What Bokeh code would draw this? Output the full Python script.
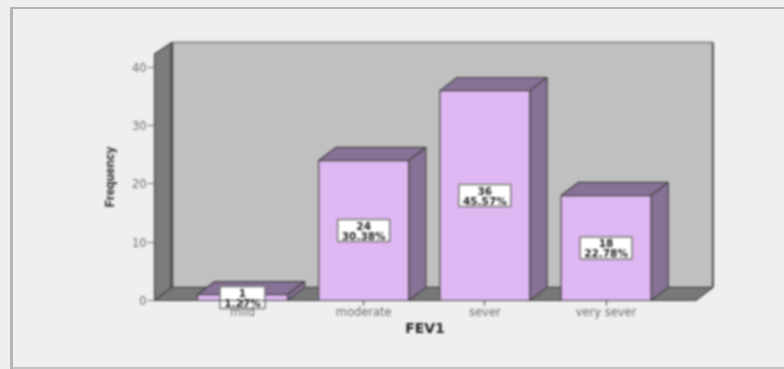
from bokeh.core.properties import value
from bokeh.embed import file_html
from bokeh.resources import INLINE
from bokeh.plotting import figure
from bokeh.models import ColumnDataSource, Range1d, FixedTicker

categories = ["mild", "moderate", "sever", "very sever"]
frequency = [1, 24, 36, 18]
percent = [1.27, 30.38, 45.57, 22.78]
y_ticks = [0, 10, 20, 30, 40]

xs = list(range(len(categories)))
half = 0.3714
dx, dy = 0.142, 2.25
x_left, x_right = -0.726, 3.74
wall_top = 42.3
back_top = wall_top + dy - 0.3

p = figure(width=784, height=369, output_backend="svg", toolbar_location=None,
           x_range=Range1d(-1.213, 3.895), y_range=Range1d(-7.72, 44.6),
           min_border_left=95, min_border_right=70, min_border_top=40, min_border_bottom=24,
           border_fill_color=None, background_fill_color=None, outline_line_color=None)
p.styles = {"filter": "blur(0.8px)"}
p.grid.visible = False

edge = "#444444"
# back wall, left wall, floor
p.patch([x_left + dx, x_right + dx, x_right + dx, x_left + dx], [dy, dy, back_top, back_top],
        fill_color="#c0c0c0", line_color=None)
p.line([x_left + dx, x_right + dx], [back_top, back_top], line_color="#8c8c8c", line_width=2)
p.line([x_right + dx, x_right + dx], [dy, back_top], line_color="#505050", line_width=2)
p.patch([x_left, x_left + dx, x_left + dx, x_left], [0, dy, back_top, wall_top],
        fill_color="#7c7c7c", line_color=edge, line_width=1.2)
p.line([x_left + dx, x_left + dx], [dy, back_top], line_color="#505050", line_width=3)
p.patch([x_left, x_right, x_right + dx, x_left + dx], [0, 0, dy, dy],
        fill_color="#787878", line_color=edge, line_width=1.2)

# bars
for x, v in zip(xs, frequency):
    l, r = x - half, x + half
    p.patch([l, r, r + dx, l + dx], [v, v, v + dy, v + dy], fill_color="#877196", line_color=edge, line_width=1.2)
    p.patch([r, r + dx, r + dx, r], [0, dy, v + dy, v], fill_color="#877196", line_color=edge, line_width=1.2)
    p.quad(left=[l], right=[r], bottom=[0], top=[v], fill_color="#dfb7f2", line_color=edge, line_width=1.2)

# axes
tick_font = "DejaVu Sans"
p.xaxis.fixed_location = 0
p.xaxis.ticker = FixedTicker(ticks=xs)
p.xaxis.major_label_overrides = dict(zip(xs, categories))
p.xaxis.bounds = (x_left, x_right)
p.xaxis.axis_line_color = edge
p.xaxis.major_tick_line_color = edge
p.xaxis.major_tick_out = 5
p.xaxis.major_tick_in = 0
p.xaxis.minor_tick_line_color = None
p.xaxis.major_label_text_font = tick_font
p.xaxis.major_label_text_font_size = "11.5px"
p.xaxis.major_label_text_color = "#6e6e6e"
p.xaxis.major_label_standoff = 0
p.xaxis.axis_label = "FEV1"
p.xaxis.axis_label_text_font = "DejaVu Sans"
p.xaxis.axis_label_text_font_size = "14px"
p.xaxis.axis_label_text_font_style = "bold"
p.xaxis.axis_label_text_color = "#222222"
p.xaxis.axis_label_standoff = -3

p.yaxis.fixed_location = x_left
p.yaxis.ticker = FixedTicker(ticks=y_ticks)
p.yaxis.bounds = (0, wall_top)
p.yaxis.axis_line_color = None
p.yaxis.major_tick_line_color = "#777777"
p.yaxis.major_tick_out = 7
p.yaxis.major_tick_in = 0
p.yaxis.minor_tick_line_color = None
p.yaxis.major_label_text_font = tick_font
p.yaxis.major_label_text_font_size = "11.5px"
p.yaxis.major_label_text_color = "#6e6e6e"
p.yaxis.major_label_standoff = 1
p.yaxis.axis_label = "Frequency"
p.yaxis.axis_label_text_font = "Liberation Sans"
p.yaxis.axis_label_text_font_size = "12px"
p.yaxis.axis_label_text_font_style = "bold"
p.yaxis.axis_label_text_color = "#222222"
p.yaxis.axis_label_standoff = 12

# value labels: white box with two centred lines
pct_text = [f"{q:.2f}%" for q in percent]
source = ColumnDataSource(dict(
    x=xs,
    y=[v / 2 for v in frequency],
    box_w=[7 * len(t) + 10 for t in pct_text],
    count=[str(v) for v in frequency],
    pct=pct_text,
))
p.rect(x="x", y="y", width="box_w", height=22, width_units="screen", height_units="screen", source=source,
       fill_color="white", line_color="#777777", line_width=1.5)
common = dict(x="x", y="y", source=source, text_align="center", text_baseline="middle",
              text_font=value("DejaVu Sans"), text_font_size="10.5px", text_font_style="bold", text_color="#222222")
p.text(text="count", y_offset=-5, **common)
p.text(text="pct", y_offset=5, **common)

frame_css = ("<style>html{background:"
             "linear-gradient(#b4b4b4,#b4b4b4) 10px 7px/774px 2px no-repeat,"
             "linear-gradient(#b4b4b4,#b4b4b4) 10px 7px/3px 362px no-repeat,"
             "linear-gradient(#c4c4c4,#c4c4c4) 10px 367px/774px 2px no-repeat,"
             "#efefef}</style>")
open("out.html", "w").write(file_html(p, INLINE).replace("</head>", frame_css + "</head>", 1))
